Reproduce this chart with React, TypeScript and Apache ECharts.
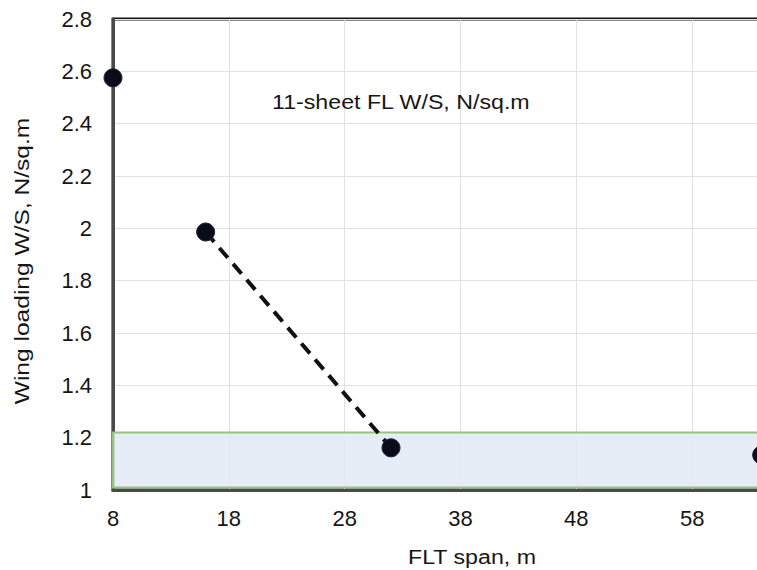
import React, { useEffect, useRef } from "react";
import * as echarts from "echarts";

const spanValues: number[] = [8, 16, 32, 64];
const wingLoading: number[] = [2.575, 1.986, 1.161, 1.134];
const dashedSpan: number[] = [16, 32];
const dashedLoading: number[] = [1.986, 1.161];
const bandLow = 1.01;
const bandHigh = 1.22;
const annotation = "11-sheet FL W/S, N/sq.m";
const xName = "FLT span, m";
const yName = "Wing loading W/S, N/sq.m";

const FONT = "'Liberation Sans', Arial, Helvetica, sans-serif";
const TEXT = "#161616";

export default function App() {
  const ref = useRef<HTMLDivElement>(null);
  useEffect(() => {
    if (!ref.current) return;
    const chart = echarts.init(ref.current, undefined, { renderer: "svg" });
    chart.setOption({
      animation: false,
      backgroundColor: "#ffffff",
      textStyle: { fontFamily: FONT },
      grid: {
        left: 113,
        top: 19,
        bottom: 80,
        right: 22,
        show: true,
        borderColor: "#151515",
        borderWidth: 3,
        backgroundColor: "transparent",
      },
      xAxis: {
        type: "value",
        min: 8,
        max: 68,
        interval: 10,
        axisLine: { show: true, onZero: false, lineStyle: { color: "#4a4a4a", width: 3 } },
        axisTick: { show: false },
        axisLabel: { fontSize: 22, color: TEXT, margin: 17, fontFamily: FONT, showMaxLabel: false },
        splitLine: { show: true, lineStyle: { color: "#e0e0e0", width: 1 } },
      },
      yAxis: {
        type: "value",
        min: 1,
        max: 2.8,
        interval: 0.2,
        axisLine: { show: true, onZero: false, lineStyle: { color: "#4a4a4a", width: 3 } },
        axisTick: { show: false },
        axisLabel: {
          fontSize: 22,
          color: TEXT,
          margin: 21,
          fontFamily: FONT,
          formatter: (v: number) => String(+v.toFixed(1)),
        },
        splitLine: { show: true, lineStyle: { color: "#e0e0e0", width: 1 } },
      },
      series: [
        {
          type: "line",
          data: dashedSpan.map((x, i) => [x, dashedLoading[i]]),
          symbol: "none",
          lineStyle: { color: "#111", width: 4, type: [13, 8] },
          markArea: {
            silent: true,
            itemStyle: { color: "rgba(226,234,245,0.85)", borderColor: "#93c57b", borderWidth: 2 },
            data: [[{ yAxis: bandLow, xAxis: 8 }, { yAxis: bandHigh, xAxis: 68 }]],
          },
          z: 3,
        },
        {
          type: "scatter",
          data: spanValues.map((x, i) => [x, wingLoading[i]]),
          symbol: "circle",
          symbolSize: 18,
          itemStyle: { color: "#0a0c1a", borderColor: "#1b2040", borderWidth: 1, opacity: 1 },
          clip: false,
          z: 5,
        },
      ],
      graphic: [
        {
          type: "text",
          x: 272,
          y: 102,
          scaleX: 1.16,
          style: {
            text: annotation,
            fontSize: 20,
            fill: TEXT,
            fontFamily: FONT,
            textAlign: "left",
            textVerticalAlign: "middle",
          },
          z: 10,
        },
        {
          type: "text",
          x: 472,
          y: 557,
          scaleX: 1.16,
          style: {
            text: xName,
            fontSize: 20,
            fill: TEXT,
            fontFamily: FONT,
            textAlign: "center",
            textVerticalAlign: "middle",
          },
          z: 10,
        },
        {
          type: "text",
          x: 22,
          y: 261,
          rotation: Math.PI / 2,
          scaleX: 1.17,
          style: {
            text: yName,
            fontSize: 21,
            fill: TEXT,
            fontFamily: FONT,
            textAlign: "center",
            textVerticalAlign: "middle",
          },
          z: 10,
        },
      ],
    });
    return () => chart.dispose();
  }, []);
  return (
    <div style={{ position: "absolute", left: 0, top: 0, width: 757, height: 570, overflow: "hidden" }}>
      <div ref={ref} style={{ width: 830, height: 570 }} />
    </div>
  );
}
